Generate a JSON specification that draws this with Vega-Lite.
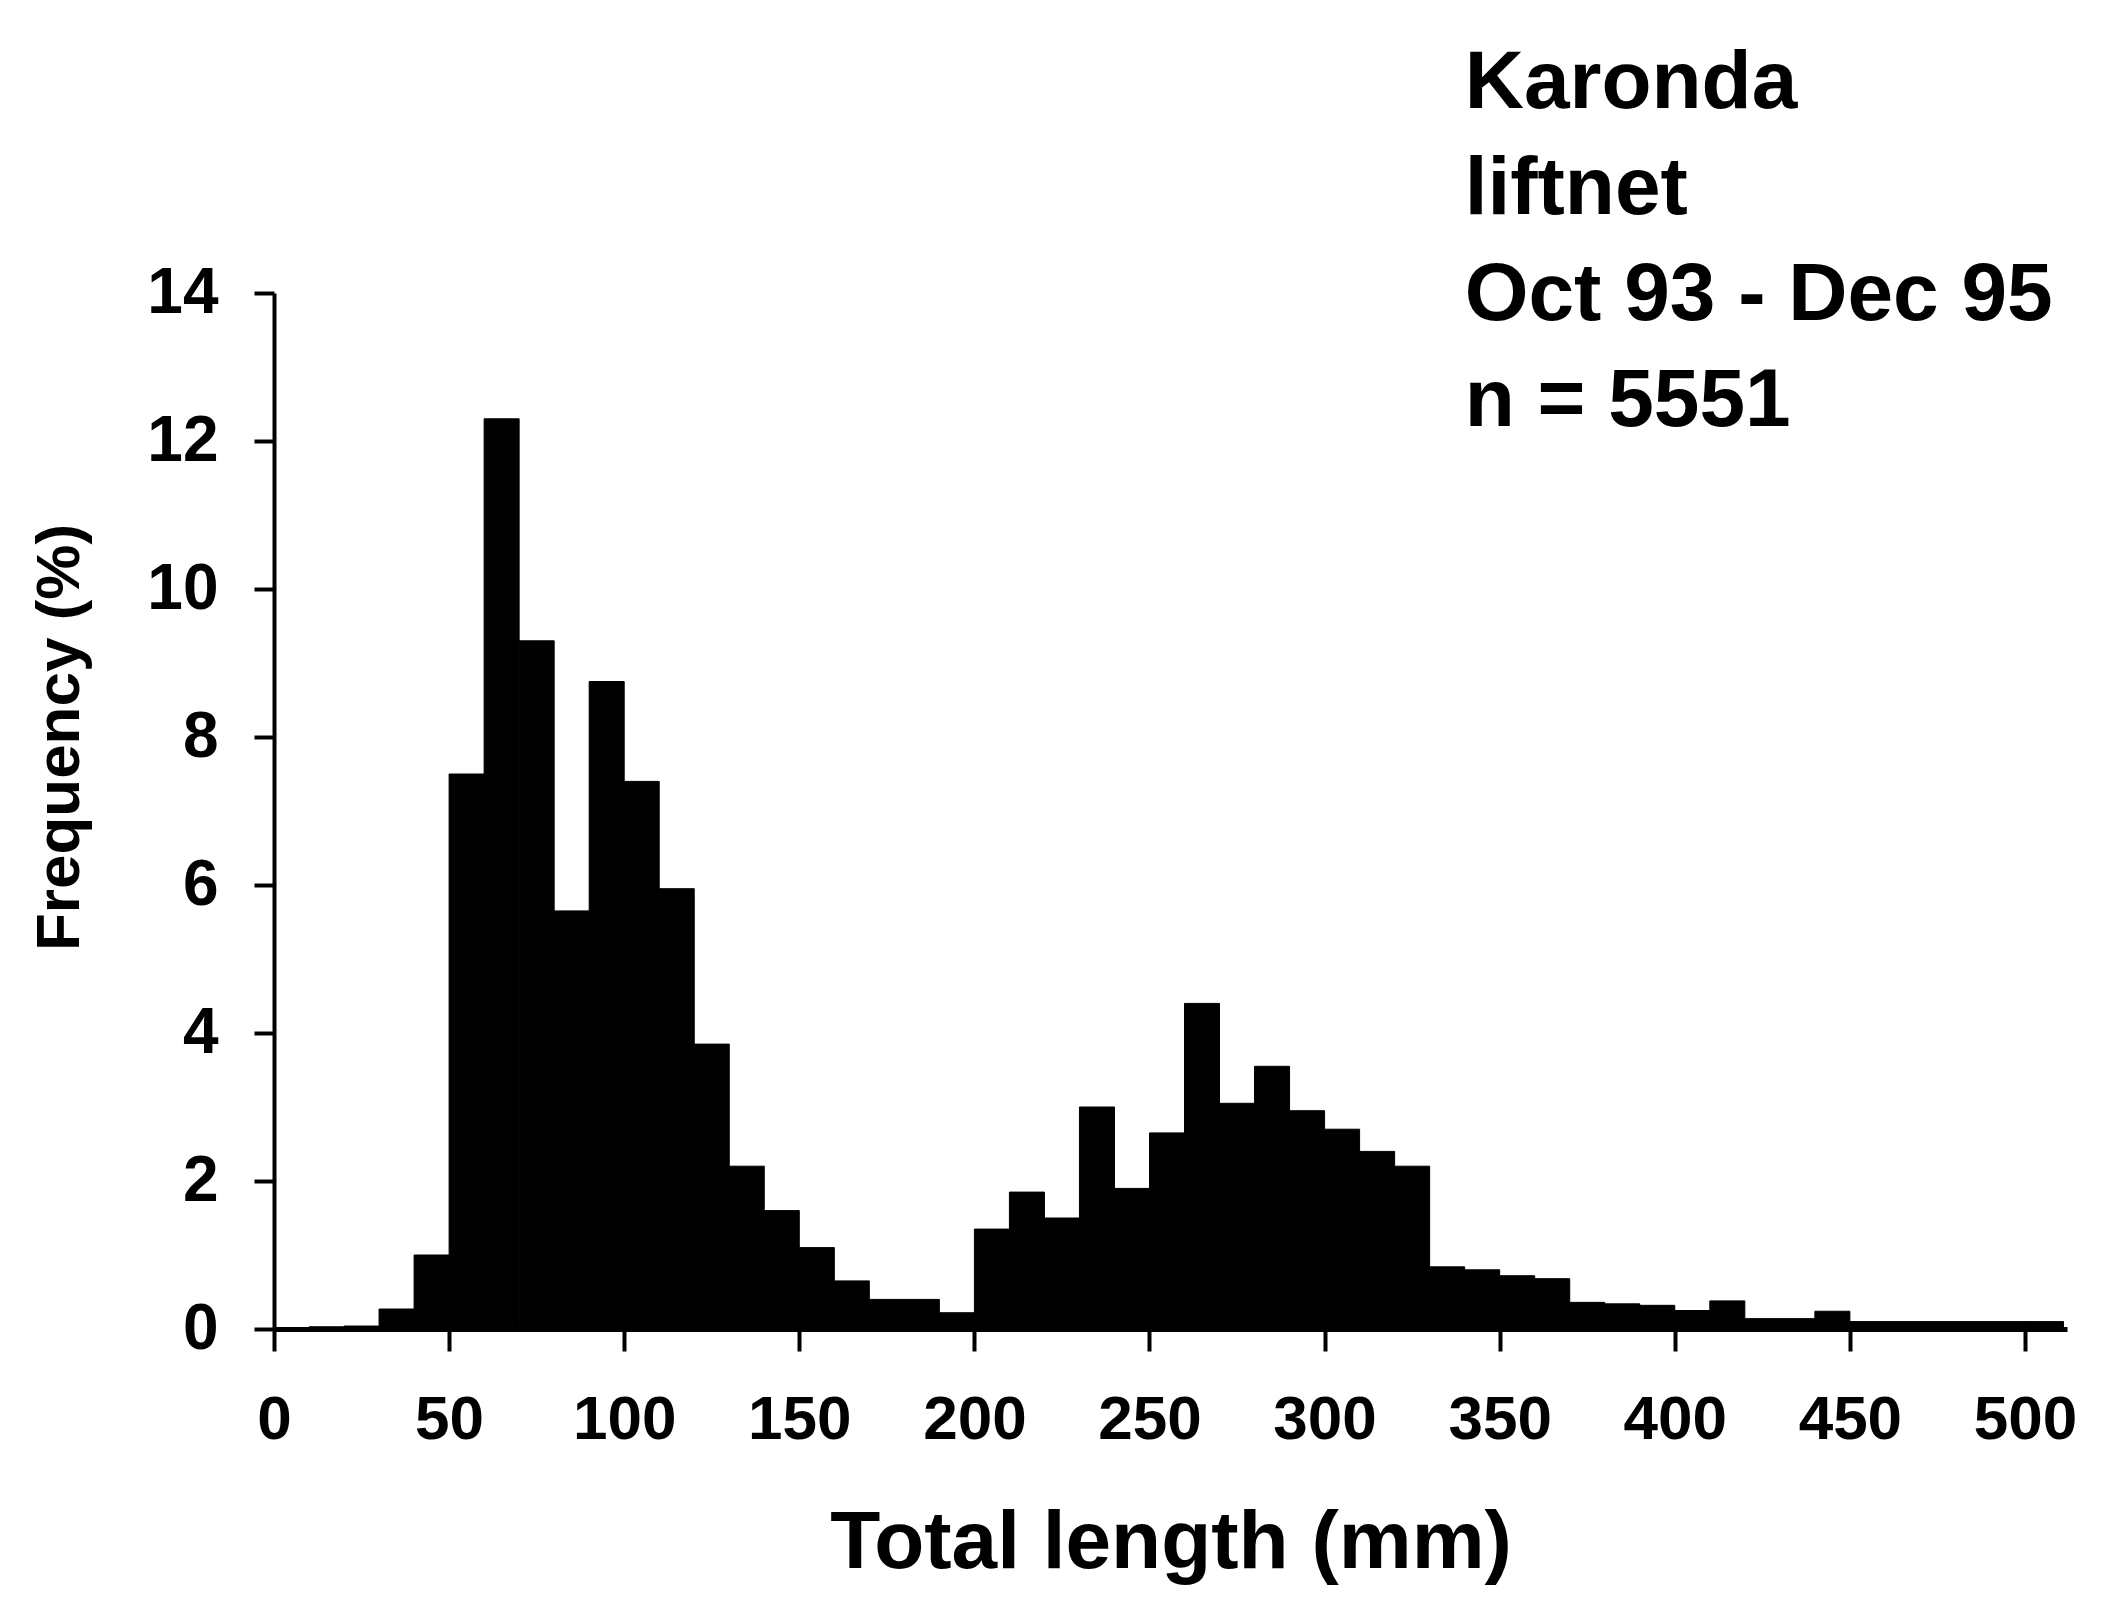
{
  "$schema": "https://vega.github.io/schema/vega-lite/v6.json",
  "autosize": {"type": "none"},
  "padding": {"left": 274, "top": 293, "right": 53, "bottom": 290},
  "width": 1793,
  "height": 1036,
  "background": "white",
  "config": {
    "view": {"stroke": null},
    "font": "Liberation Sans",
    "axis": {"grid": false, "domainColor": "black", "tickColor": "black", "labelColor": "black", "titleColor": "black", "labelFont": "Liberation Sans", "titleFont": "Liberation Sans", "labelFontWeight": "bold", "titleFontWeight": "bold"}
  },
  "datasets": {
    "bins": [
      {"x0": 0, "x1": 10, "freq": 0.0},
      {"x0": 10, "x1": 20, "freq": 0.03},
      {"x0": 20, "x1": 30, "freq": 0.04},
      {"x0": 30, "x1": 40, "freq": 0.27},
      {"x0": 40, "x1": 50, "freq": 1.0},
      {"x0": 50, "x1": 60, "freq": 7.5},
      {"x0": 60, "x1": 70, "freq": 12.3},
      {"x0": 70, "x1": 80, "freq": 9.3},
      {"x0": 80, "x1": 90, "freq": 5.65},
      {"x0": 90, "x1": 100, "freq": 8.75},
      {"x0": 100, "x1": 110, "freq": 7.4},
      {"x0": 110, "x1": 120, "freq": 5.95},
      {"x0": 120, "x1": 130, "freq": 3.85},
      {"x0": 130, "x1": 140, "freq": 2.2},
      {"x0": 140, "x1": 150, "freq": 1.6},
      {"x0": 150, "x1": 160, "freq": 1.1},
      {"x0": 160, "x1": 170, "freq": 0.65},
      {"x0": 170, "x1": 180, "freq": 0.4},
      {"x0": 180, "x1": 190, "freq": 0.4},
      {"x0": 190, "x1": 200, "freq": 0.22},
      {"x0": 200, "x1": 210, "freq": 1.35},
      {"x0": 210, "x1": 220, "freq": 1.85},
      {"x0": 220, "x1": 230, "freq": 1.5},
      {"x0": 230, "x1": 240, "freq": 3.0},
      {"x0": 240, "x1": 250, "freq": 1.9},
      {"x0": 250, "x1": 260, "freq": 2.65},
      {"x0": 260, "x1": 270, "freq": 4.4},
      {"x0": 270, "x1": 280, "freq": 3.05},
      {"x0": 280, "x1": 290, "freq": 3.55},
      {"x0": 290, "x1": 300, "freq": 2.95},
      {"x0": 300, "x1": 310, "freq": 2.7},
      {"x0": 310, "x1": 320, "freq": 2.4},
      {"x0": 320, "x1": 330, "freq": 2.2},
      {"x0": 330, "x1": 340, "freq": 0.84},
      {"x0": 340, "x1": 350, "freq": 0.8},
      {"x0": 350, "x1": 360, "freq": 0.72},
      {"x0": 360, "x1": 370, "freq": 0.68},
      {"x0": 370, "x1": 380, "freq": 0.36},
      {"x0": 380, "x1": 390, "freq": 0.34},
      {"x0": 390, "x1": 400, "freq": 0.32},
      {"x0": 400, "x1": 410, "freq": 0.25},
      {"x0": 410, "x1": 420, "freq": 0.38},
      {"x0": 420, "x1": 430, "freq": 0.14},
      {"x0": 430, "x1": 440, "freq": 0.14},
      {"x0": 440, "x1": 450, "freq": 0.24},
      {"x0": 450, "x1": 460, "freq": 0.1},
      {"x0": 460, "x1": 470, "freq": 0.1},
      {"x0": 470, "x1": 480, "freq": 0.1},
      {"x0": 480, "x1": 490, "freq": 0.1},
      {"x0": 490, "x1": 500, "freq": 0.1},
      {"x0": 500, "x1": 511, "freq": 0.1}
    ]
  },
  "layer": [
    {
      "data": {"name": "bins"},
      "mark": {"type": "bar", "color": "black", "stroke": "black", "strokeWidth": 1},
      "encoding": {
        "x": {
          "field": "x0", "type": "quantitative",
          "scale": {"domain": [0, 512], "nice": false, "zero": false},
          "axis": {
            "title": "Total length (mm)", "values": [0, 50, 100, 150, 200, 250, 300, 350, 400, 450, 500], "format": "d",
            "domainWidth": 5, "tickWidth": 4, "tickSize": 22, "labelPadding": 38,
            "labelFontSize": 62, "titleFontSize": 82, "titlePadding": 52, "labelFlush": false
          }
        },
        "x2": {"field": "x1"},
        "y": {
          "field": "freq", "type": "quantitative",
          "scale": {"domain": [0, 14], "nice": false},
          "axis": {
            "title": "Frequency (%)", "values": [0, 2, 4, 6, 8, 10, 12, 14], "format": "d",
            "domainWidth": 4, "tickWidth": 4, "tickSize": 20, "labelPadding": 36,
            "labelFontSize": 64, "titleFontSize": 62, "labelFlush": false,
            "titleX": -196, "titleY": 444, "titleBaseline": "alphabetic", "titleAlign": "center"
          }
        },
        "y2": {"datum": 0}
      }
    },
    {
      "data": {"values": [{}]},
      "mark": {"type": "text", "align": "left", "baseline": "alphabetic", "font": "Liberation Sans", "fontWeight": "bold", "fontSize": 82, "lineHeight": 106, "color": "black"},
      "encoding": {
        "x": {"datum": 340, "type": "quantitative"},
        "y": {"datum": 16.5, "type": "quantitative"},
        "text": {"value": ["Karonda", "liftnet", "Oct 93 - Dec 95", "n = 5551"]}
      }
    }
  ]
}
